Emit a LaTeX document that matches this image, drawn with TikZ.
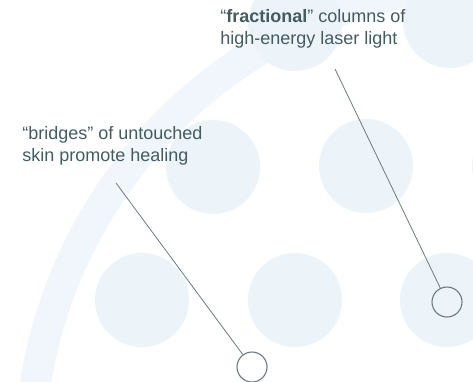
\documentclass[tikz,border=0pt]{standalone}
\usepackage{fontspec}
\setmainfont{Liberation Sans}
\usetikzlibrary{positioning}

\definecolor{spotblue}{RGB}{236,243,249}
\definecolor{bandblue}{RGB}{240,246,252}
\definecolor{labeltext}{RGB}{66,92,96}
\definecolor{leadergray}{RGB}{108,122,128}

\begin{document}
\begin{tikzpicture} [x=1pt,y=-1pt,line width=0.8pt,
    spot/.style={circle,fill=spotblue,minimum size=94pt,inner sep=0pt},
    ring/.style={circle,draw=leadergray,line width=1.1pt,minimum size=30pt,inner sep=0pt},
    leader/.style={draw=leadergray},
    callout/.style={font=\fontsize{18}{22.5}\selectfont,text=labeltext,align=left,inner sep=0pt,anchor=north west}]

  \useasboundingbox (0,0) rectangle (473,381);
  \clip (0,0) rectangle (473,381);

  % edge of the laser window
  \fill[bandblue,even odd rule] (508,459) circle[radius=494] (508,459) circle[radius=463];

  % treated columns
  \foreach \px/\py [count=\n] in {295/24,450/21,213/167,366/166,519/166,142/300,295/300,447/300}
    \node[spot] (spot\n) at (\px,\py) {};

  \node[callout] (columns) at (220,9) {``\textbf{fractional}'' columns of\\high-energy laser light};
  \node[callout] (bridges) at (22,126) {``bridges'' of untouched\\skin promote healing};

  \node[ring] (column-ring) at (447,302) {};
  \node[ring] (bridge-ring) at (252,367) {};

  \coordinate (column-tip) at (335,69);
  \coordinate (bridge-tip) at (116,183);

  \path[leader]
    (column-tip) edge (column-ring)
    (bridge-tip) edge (bridge-ring);
\end{tikzpicture}
\end{document}
